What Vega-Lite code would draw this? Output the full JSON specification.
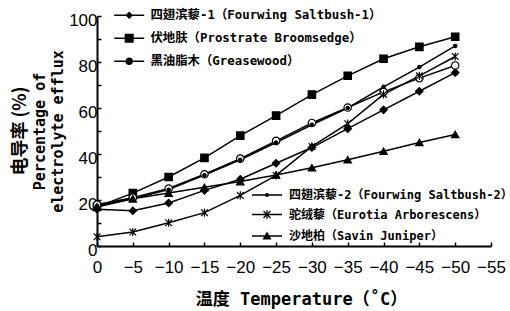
{
  "$schema": "https://vega.github.io/schema/vega-lite/v6.json",
  "width": 394,
  "height": 230,
  "autosize": {"type": "none"},
  "padding": {"left": 97, "top": 16, "right": 19, "bottom": 65},
  "background": "white",
  "title": {"text": "电导率 (%)", "orient": "left", "anchor": "middle", "font": "Noto Sans CJK SC", "fontSize": 18, "fontWeight": "bold", "color": "black", "offset": 3},
  "config": {
    "view": {"stroke": null},
    "axis": {"domainColor": "black", "domainWidth": 2, "tickColor": "black", "tickWidth": 1.5, "labelColor": "black", "titleColor": "black", "grid": false, "labelFont": "Liberation Sans", "labelFontSize": 17, "labelFlush": false, "labelOverlap": false, "labelBound": false}
  },
  "datasets": {
    "d": [
      {"g": "A", "s": "四翅滨藜-1（Fourwing Saltbush-1）", "t": 0, "v": 16},
      {"g": "A", "s": "四翅滨藜-1（Fourwing Saltbush-1）", "t": -5, "v": 15.3},
      {"g": "A", "s": "四翅滨藜-1（Fourwing Saltbush-1）", "t": -10, "v": 18.7},
      {"g": "A", "s": "四翅滨藜-1（Fourwing Saltbush-1）", "t": -15, "v": 24.2},
      {"g": "A", "s": "四翅滨藜-1（Fourwing Saltbush-1）", "t": -20, "v": 29},
      {"g": "A", "s": "四翅滨藜-1（Fourwing Saltbush-1）", "t": -25, "v": 36},
      {"g": "A", "s": "四翅滨藜-1（Fourwing Saltbush-1）", "t": -30, "v": 42.8},
      {"g": "A", "s": "四翅滨藜-1（Fourwing Saltbush-1）", "t": -35, "v": 51},
      {"g": "A", "s": "四翅滨藜-1（Fourwing Saltbush-1）", "t": -40, "v": 59.2},
      {"g": "A", "s": "四翅滨藜-1（Fourwing Saltbush-1）", "t": -45, "v": 67.3},
      {"g": "A", "s": "四翅滨藜-1（Fourwing Saltbush-1）", "t": -50, "v": 75.4},
      {"g": "A", "s": "伏地肤（Prostrate Broomsedge）", "t": 0, "v": 17},
      {"g": "A", "s": "伏地肤（Prostrate Broomsedge）", "t": -5, "v": 23},
      {"g": "A", "s": "伏地肤（Prostrate Broomsedge）", "t": -10, "v": 30},
      {"g": "A", "s": "伏地肤（Prostrate Broomsedge）", "t": -15, "v": 38.3},
      {"g": "A", "s": "伏地肤（Prostrate Broomsedge）", "t": -20, "v": 48},
      {"g": "A", "s": "伏地肤（Prostrate Broomsedge）", "t": -25, "v": 56.7},
      {"g": "A", "s": "伏地肤（Prostrate Broomsedge）", "t": -30, "v": 65.8},
      {"g": "A", "s": "伏地肤（Prostrate Broomsedge）", "t": -35, "v": 74},
      {"g": "A", "s": "伏地肤（Prostrate Broomsedge）", "t": -40, "v": 81.4},
      {"g": "A", "s": "伏地肤（Prostrate Broomsedge）", "t": -45, "v": 86.6},
      {"g": "A", "s": "伏地肤（Prostrate Broomsedge）", "t": -50, "v": 91},
      {"g": "A", "s": "黑油脂木（Greasewood）", "t": 0, "v": 18},
      {"g": "A", "s": "黑油脂木（Greasewood）", "t": -5, "v": 21},
      {"g": "A", "s": "黑油脂木（Greasewood）", "t": -10, "v": 25},
      {"g": "A", "s": "黑油脂木（Greasewood）", "t": -15, "v": 31.2},
      {"g": "A", "s": "黑油脂木（Greasewood）", "t": -20, "v": 38},
      {"g": "A", "s": "黑油脂木（Greasewood）", "t": -25, "v": 45.7},
      {"g": "A", "s": "黑油脂木（Greasewood）", "t": -30, "v": 53.5},
      {"g": "A", "s": "黑油脂木（Greasewood）", "t": -35, "v": 60.2},
      {"g": "A", "s": "黑油脂木（Greasewood）", "t": -40, "v": 67},
      {"g": "A", "s": "黑油脂木（Greasewood）", "t": -45, "v": 73},
      {"g": "A", "s": "黑油脂木（Greasewood）", "t": -50, "v": 78.5},
      {"g": "B", "s": "四翅滨藜-2（Fourwing Saltbush-2）", "t": 0, "v": 17.5},
      {"g": "B", "s": "四翅滨藜-2（Fourwing Saltbush-2）", "t": -5, "v": 20.5},
      {"g": "B", "s": "四翅滨藜-2（Fourwing Saltbush-2）", "t": -10, "v": 24.5},
      {"g": "B", "s": "四翅滨藜-2（Fourwing Saltbush-2）", "t": -15, "v": 30.8},
      {"g": "B", "s": "四翅滨藜-2（Fourwing Saltbush-2）", "t": -20, "v": 37.5},
      {"g": "B", "s": "四翅滨藜-2（Fourwing Saltbush-2）", "t": -25, "v": 45},
      {"g": "B", "s": "四翅滨藜-2（Fourwing Saltbush-2）", "t": -30, "v": 52.7},
      {"g": "B", "s": "四翅滨藜-2（Fourwing Saltbush-2）", "t": -35, "v": 60},
      {"g": "B", "s": "四翅滨藜-2（Fourwing Saltbush-2）", "t": -40, "v": 69.2},
      {"g": "B", "s": "四翅滨藜-2（Fourwing Saltbush-2）", "t": -45, "v": 77.8},
      {"g": "B", "s": "四翅滨藜-2（Fourwing Saltbush-2）", "t": -50, "v": 87},
      {"g": "B", "s": "驼绒藜（Eurotia Arborescens）", "t": 0, "v": 4},
      {"g": "B", "s": "驼绒藜（Eurotia Arborescens）", "t": -5, "v": 6.1},
      {"g": "B", "s": "驼绒藜（Eurotia Arborescens）", "t": -10, "v": 10.1},
      {"g": "B", "s": "驼绒藜（Eurotia Arborescens）", "t": -15, "v": 14.5},
      {"g": "B", "s": "驼绒藜（Eurotia Arborescens）", "t": -20, "v": 22},
      {"g": "B", "s": "驼绒藜（Eurotia Arborescens）", "t": -25, "v": 30.7},
      {"g": "B", "s": "驼绒藜（Eurotia Arborescens）", "t": -30, "v": 43.3},
      {"g": "B", "s": "驼绒藜（Eurotia Arborescens）", "t": -35, "v": 53.2},
      {"g": "B", "s": "驼绒藜（Eurotia Arborescens）", "t": -40, "v": 65.9},
      {"g": "B", "s": "驼绒藜（Eurotia Arborescens）", "t": -45, "v": 74},
      {"g": "B", "s": "驼绒藜（Eurotia Arborescens）", "t": -50, "v": 82.4},
      {"g": "B", "s": "沙地柏（Savin Juniper）", "t": 0, "v": 17},
      {"g": "B", "s": "沙地柏（Savin Juniper）", "t": -5, "v": 20.5},
      {"g": "B", "s": "沙地柏（Savin Juniper）", "t": -10, "v": 23},
      {"g": "B", "s": "沙地柏（Savin Juniper）", "t": -15, "v": 25.5},
      {"g": "B", "s": "沙地柏（Savin Juniper）", "t": -20, "v": 28},
      {"g": "B", "s": "沙地柏（Savin Juniper）", "t": -25, "v": 30.9},
      {"g": "B", "s": "沙地柏（Savin Juniper）", "t": -30, "v": 34},
      {"g": "B", "s": "沙地柏（Savin Juniper）", "t": -35, "v": 37.5},
      {"g": "B", "s": "沙地柏（Savin Juniper）", "t": -40, "v": 41.2},
      {"g": "B", "s": "沙地柏（Savin Juniper）", "t": -45, "v": 45},
      {"g": "B", "s": "沙地柏（Savin Juniper）", "t": -50, "v": 48.5}
    ]
  },
  "data": {"name": "d"},
  "encoding": {
    "x": {
      "field": "t", "type": "quantitative",
      "scale": {"domain": [0, -55]},
      "axis": {
        "values": [0, -5, -10, -15, -20, -25, -30, -35, -40, -45, -50, -55],
        "tickSize": -4, "labelPadding": 17,
        "title": "温度 Temperature（˚C）", "titleX": 204,
        "titleFont": "DejaVu Sans Mono, Noto Sans CJK SC", "titleFontSize": 17, "titleFontWeight": "bold", "titlePadding": 16
      }
    },
    "y": {
      "field": "v", "type": "quantitative",
      "scale": {"domain": [0, 100]},
      "axis": {
        "values": [0, 10, 20, 30, 40, 50, 60, 70, 80, 90, 100],
        "labelExpr": "datum.value % 20 == 0 ? datum.label : ''",
        "tickSize": -4, "labelPadding": 4, "labelOffset": 4,
        "title": ["Percentage of", "electrolyte efflux"],
        "titleFont": "DejaVu Sans Mono", "titleFontSize": 15, "titleFontWeight": "bold", "titleLineHeight": 18, "titlePadding": 3
      }
    }
  },
  "layer": [
    {
      "mark": {"type": "line", "color": "black", "strokeWidth": 1.5},
      "encoding": {"detail": {"field": "s"}}
    },
    {
      "transform": [{"filter": {"field": "g", "equal": "A"}}],
      "mark": {"type": "point", "filled": false, "stroke": "black", "strokeWidth": 1.2, "size": 55, "opacity": 1},
      "encoding": {
        "fill": {
          "field": "s", "type": "nominal", "legend": null,
          "scale": {"domain": ["四翅滨藜-1（Fourwing Saltbush-1）", "伏地肤（Prostrate Broomsedge）", "黑油脂木（Greasewood）"], "range": ["black", "black", "white"]}
        },
        "shape": {
          "field": "s", "type": "nominal", "legend": null,
          "scale": {"domain": ["四翅滨藜-1（Fourwing Saltbush-1）", "伏地肤（Prostrate Broomsedge）", "黑油脂木（Greasewood）"], "range": ["diamond", "square", "circle"]}
        }
      }
    },
    {
      "transform": [{"filter": {"field": "g", "equal": "B"}}],
      "mark": {"type": "point", "filled": false, "fill": "black", "stroke": "black", "strokeWidth": 1.2, "size": 55, "opacity": 1},
      "encoding": {
        "shape": {
          "field": "s", "type": "nominal", "legend": null,
          "scale": {"domain": ["四翅滨藜-2（Fourwing Saltbush-2）", "驼绒藜（Eurotia Arborescens）", "沙地柏（Savin Juniper）"], "range": ["M0.45,0A0.45,0.45 0 1,1 -0.45,0A0.45,0.45 0 1,1 0.45,0Z", "M-0.9,-0.9L0.9,0.9M-0.9,0.9L0.9,-0.9M0,-1.1V1.1", "triangle-up"]}
        }
      }
    },
    {
      "transform": [{"filter": {"field": "g", "equal": "none"}}],
      "mark": {"type": "point", "filled": true, "color": "black", "opacity": 1},
      "encoding": {
        "shape": {
          "field": "s", "type": "nominal",
          "scale": {"domain": ["四翅滨藜-1（Fourwing Saltbush-1）", "伏地肤（Prostrate Broomsedge）", "黑油脂木（Greasewood）"], "range": ["M-3,-0.15H3V0.15H-3ZM0,-0.75L0.75,0L0,0.75L-0.75,0Z", "M-3,-0.15H3V0.15H-3ZM-0.9,-0.9H0.9V0.9H-0.9Z", "M-3,-0.15H3V0.15H-3ZM0.75,0A0.75,0.75 0 1,1 -0.75,0A0.75,0.75 0 1,1 0.75,0Z"]},
          "legend": {
            "title": null, "orient": "none", "legendX": 26, "legendY": -7, "padding": 0,
            "symbolSize": 100, "rowPadding": 8, "labelOffset": 15, "labelLimit": 0,
            "labelFont": "DejaVu Sans Mono, Noto Sans CJK SC", "labelFontSize": 12.4, "labelFontWeight": "bold", "labelColor": "black"
          }
        }
      }
    },
    {
      "transform": [{"filter": {"field": "g", "equal": "none"}}],
      "mark": {"type": "point", "filled": true, "color": "black", "opacity": 1},
      "encoding": {
        "shape": {
          "field": "s", "type": "nominal",
          "scale": {"domain": ["四翅滨藜-2（Fourwing Saltbush-2）", "驼绒藜（Eurotia Arborescens）", "沙地柏（Savin Juniper）"], "range": ["M-3,-0.15H3V0.15H-3ZM0.4,0A0.4,0.4 0 1,1 -0.4,0A0.4,0.4 0 1,1 0.4,0Z", "M-3,-0.15H3V0.15H-3ZM-0.785,-0.615L-0.615,-0.785L0.785,0.615L0.615,0.785ZM-0.615,0.785L-0.785,0.615L0.615,-0.785L0.785,-0.615ZM-0.12,-0.9H0.12V0.9H-0.12Z", "M-3,-0.15H3V0.15H-3ZM0,-0.9L0.9,0.7H-0.9Z"]},
          "legend": {
            "title": null, "orient": "none", "legendX": 164, "legendY": 173, "padding": 0,
            "symbolSize": 100, "rowPadding": 5.5, "labelOffset": 16, "labelLimit": 0,
            "labelFont": "DejaVu Sans Mono, Noto Sans CJK SC", "labelFontSize": 12, "labelFontWeight": "bold", "labelColor": "black"
          }
        }
      }
    }
  ],
  "resolve": {"scale": {"shape": "independent", "fill": "independent"}, "legend": {"shape": "independent"}}
}
